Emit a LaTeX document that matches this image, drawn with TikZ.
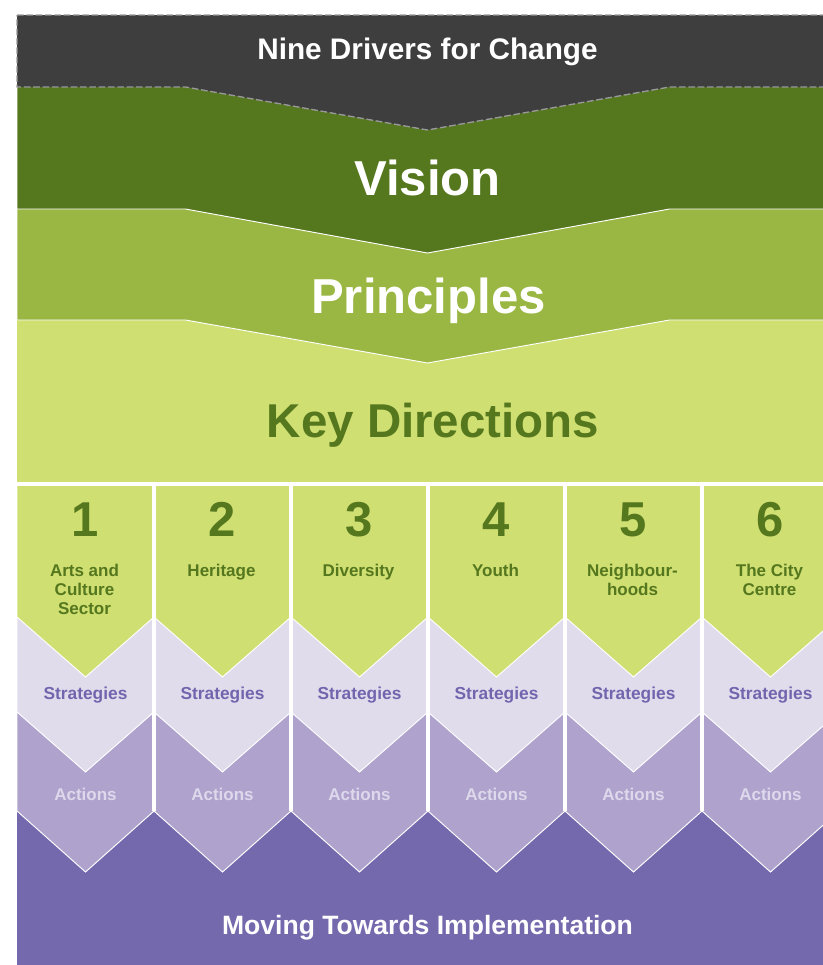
\documentclass[tikz,border=0pt]{standalone}
\usepackage{fontspec}
\setmainfont{Liberation Sans}
\definecolor{drivers}{HTML}{3E3E3E}
\definecolor{vision}{HTML}{55771E}
\definecolor{principles}{HTML}{9AB743}
\definecolor{keydir}{HTML}{CFDF72}
\definecolor{strat}{HTML}{E0DCEC}
\definecolor{actions}{HTML}{AFA3CD}
\definecolor{implement}{HTML}{7569AE}
\definecolor{strattext}{HTML}{7166AE}
\definecolor{acttext}{HTML}{DDD8EB}
\newcommand{\fsz}[2]{\fontsize{#1}{#2}\selectfont\bfseries}

\begin{document}
\begin{tikzpicture}[x=0.75pt,y=-0.75pt,
  chev/.style={draw=white,line width=0.7pt},
  sep/.style={draw=white,line width=3pt},
  title/.style={anchor=base,inner sep=0pt,text=white},
  colnum/.style={anchor=base,inner sep=0pt,text=vision,font=\fsz{36.75pt}{40pt}},
  collab/.style={anchor=base,inner sep=0pt,text=vision,align=center,font=\fsz{12.75pt}{14.25pt}},
  stratlab/.style={anchor=base,inner sep=0pt,text=strattext,font=\fsz{13pt}{15pt}},
  actlab/.style={anchor=base,inner sep=0pt,text=acttext,font=\fsz{12.75pt}{15pt}}]
\useasboundingbox (0,0) rectangle (823,965);
\clip (0,0) rectangle (823,965);
\fill[implement] (17,780) rectangle (838,965);
\fill[keydir] (17,300) rectangle (838,484);
\draw[chev,fill=principles] (17,190) -- (838,190) -- (838,320) -- (669.5,320) -- (427.5,363) -- (185.5,320) -- (17,320) -- cycle;
\draw[chev,fill=vision] (17,70) -- (838,70) -- (838,209) -- (669.5,209) -- (427.5,253) -- (185.5,209) -- (17,209) -- cycle;
\draw[fill=drivers,draw=gray!80,line width=1pt,dash pattern=on 5pt off 2pt] (17,15) -- (838,15) -- (838,87) -- (669.5,87) -- (427.5,130) -- (185.5,87) -- (17,87) -- cycle;
\node[title,font=\fsz{22.3pt}{26pt}] (drivers) at (427.5,59) {Nine Drivers for Change};
\node[title,font=\fsz{36.8pt}{40pt}] (vision) at (427.5,195) {Vision};
\node[title,font=\fsz{36.8pt}{40pt}] (principles) at (428.5,313) {Principles};
\node[title,text=vision,font=\fsz{35.6pt}{40pt}] (keydir) at (433,437) {Key Directions};
\foreach \k in {0,...,5}
{
  \pgfmathsetmacro{\xl}{17+137*\k}
  \pgfmathsetmacro{\xr}{\xl+137}
  \pgfmathsetmacro{\xc}{\xl+68.5}
  \pgfmathtruncatemacro{\nb}{\k+1}
  \draw[chev,fill=actions] (\xl,484) -- (\xr,484) -- (\xr,811) -- (\xc,872) -- (\xl,811) -- cycle;
  \draw[chev,fill=strat] (\xl,484) -- (\xr,484) -- (\xr,712) -- (\xc,772) -- (\xl,712) -- cycle;
  \draw[chev,fill=keydir] (\xl,484) -- (\xr,484) -- (\xr,617) -- (\xc,677) -- (\xl,617) -- cycle;
  \node[colnum] (dir\nb) at (\xc,536) {\nb};
  \node[stratlab] (st\nb) at (\xc,699) {Strategies};
  \node[actlab] (ac\nb) at (\xc,800) {Actions};
}
\node[collab] (lab1) at (84.5,614) {Arts and\\Culture\\Sector};
\node[collab] (lab2) at (221.5,576) {Heritage};
\node[collab] (lab3) at (358.5,576) {Diversity};
\node[collab] (lab4) at (495.5,576) {Youth};
\node[collab] (lab5) at (632.5,595) {Neighbour-\\hoods};
\node[collab] (lab6) at (769.5,595) {The City\\Centre};
\foreach \k in {1,...,5}
  \draw[sep] (17+137*\k,484) -- (17+137*\k,811);
\draw[sep] (17,484) -- (838,484);
\node[title,font=\fsz{19.9pt}{24pt}] (implement) at (427.5,934) {Moving Towards Implementation};
\end{tikzpicture}
\end{document}
